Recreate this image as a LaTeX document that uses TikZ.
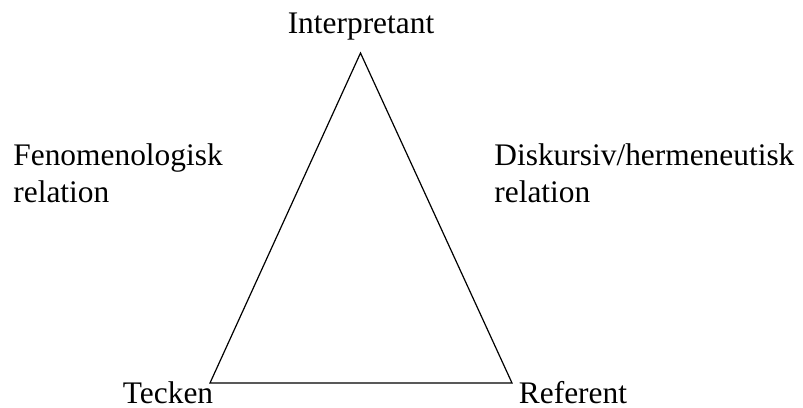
\documentclass[tikz,border=0pt]{standalone}
\usepackage{fontspec}
\setmainfont{Liberation Serif}
\usetikzlibrary{positioning}

\begin{document}
\begin{tikzpicture}[x=0.5pt, y=-0.5pt,
    lbl/.style={inner sep=0pt, font=\fontsize{15.7}{18.5}\selectfont, align=left}]
    \useasboundingbox (0,0) rectangle (803,407);

    % Corners of the triangle
    \coordinate (top) at (360.5,53);
    \coordinate (left) at (210,383);
    \coordinate (right) at (512,383);

    % Draw triangle
    \draw[line width=0.6pt] (top) -- (right) -- (left) -- cycle;

    % Corner labels
    \node[lbl, anchor=base] (interp) at (361,33) {Interpretant};
    \node[lbl, anchor=base] (tecken) at (168,403) {Tecken};
    \node[lbl, anchor=base] (referent) at (573,403) {Referent};

    % Side labels
    \node[lbl, anchor=base west] (fenom) at (13,202) {Fenomenologisk\\relation};
    \node[lbl, anchor=base west] (diskurs) at (494,202) {Diskursiv/hermeneutisk\\relation};
\end{tikzpicture}
\end{document}
